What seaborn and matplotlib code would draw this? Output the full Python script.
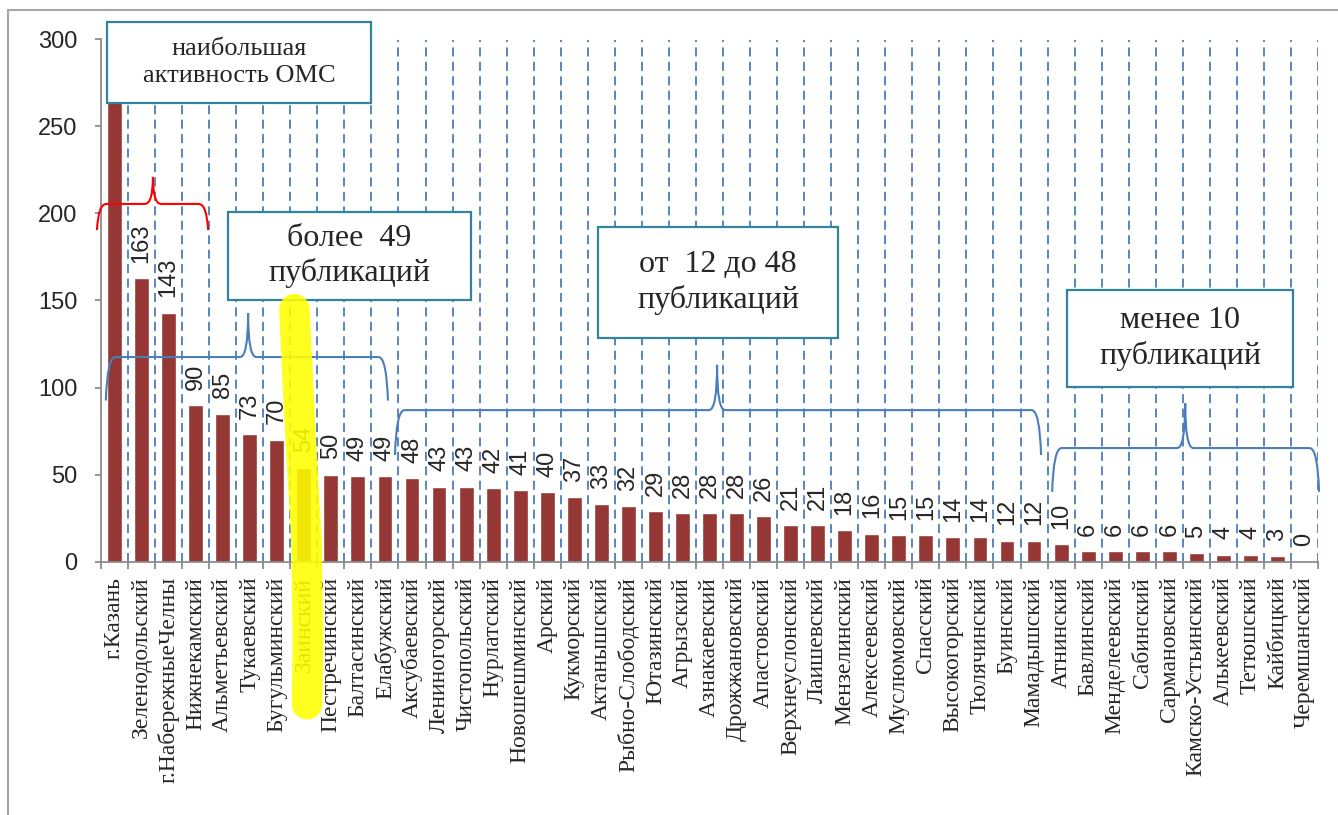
import numpy as np
import matplotlib
matplotlib.use('Agg')
import matplotlib.pyplot as plt
import seaborn as sns
from matplotlib.patches import Rectangle, PathPatch
from matplotlib.path import Path

districts = ['г.Казань', 'Зеленодольский', 'г.НабережныеЧелны', 'Нижнекамский', 'Альметьевский',
             'Тукаевский', 'Бугульминский', 'Заинский', 'Пестречинский', 'Балтасинский',
             'Елабужский', 'Аксубаевский', 'Лениногорский', 'Чистопольский', 'Нурлатский',
             'Новошешминский', 'Арский', 'Кукморский', 'Актанышский', 'Рыбно-Слободский',
             'Ютазинский', 'Агрызский', 'Азнакаевский', 'Дрожжановский', 'Апастовский',
             'Верхнеуслонский', 'Лаишевский', 'Мензелинский', 'Алексеевский', 'Муслюмовский',
             'Спасский', 'Высокогорский', 'Тюлячинский', 'Буинский', 'Мамадышский',
             'Атнинский', 'Бавлинский', 'Менделеевский', 'Сабинский', 'Сармановский',
             'Камско-Устьинский', 'Алькеевский', 'Тетюшский', 'Кайбицкий', 'Черемшанский']
counts = [329, 163, 143, 90, 85, 73, 70, 54, 50, 49, 49, 48, 43, 43, 42, 41, 40, 37, 33, 32,
          29, 28, 28, 28, 26, 21, 21, 18, 16, 15, 15, 14, 14, 12, 12, 10, 6, 6, 6, 6,
          5, 4, 4, 3, 0]

BAR = '#953735'
GRID = '#4A7EBB'
AXIS = '#8C8C8C'
BOX = '#31849B'

sns.set_theme(style='white')
plt.rcParams['font.family'] = ['Liberation Sans', 'DejaVu Sans']

W, H = 1338, 815
fig = plt.figure(figsize=(W / 100, H / 100), dpi=100)
ax = fig.add_axes([101 / W, (H - 561.5) / H, 1217 / W, 522 / H])

n = len(districts)
sns.barplot(x=districts, y=counts, color=BAR, saturation=1, width=0.55, ax=ax, zorder=2)

ax.set_xlim(-0.5, n - 0.5)
ax.set_ylim(0, 300)
bounds = np.arange(1, n + 1) - 0.5
ax.vlines(bounds, 0, 300, colors=GRID, linestyles=(0, (5, 3)), linewidth=1.3, zorder=1)

for s in ['top', 'right']:
    ax.spines[s].set_visible(False)
for s in ['left', 'bottom']:
    ax.spines[s].set_color(AXIS)
    ax.spines[s].set_linewidth(1.3)

ax.set_yticks(np.arange(0, 301, 50))
ax.tick_params(axis='y', length=4, width=1.3, color=AXIS, pad=13, labelsize=17, left=True)
ax.set_xticks(range(n))
ax.set_xticklabels(districts, rotation=90, family='Liberation Serif', fontsize=17)
ax.set_xticks(np.arange(n + 1) - 0.5, minor=True)
ax.tick_params(axis='x', which='major', length=0, pad=11)
ax.tick_params(axis='x', which='minor', length=5, width=1.3, color=AXIS, bottom=True)
ax.set_xlabel('')
ax.set_ylabel('')

# value labels; the one for the clipped bar is mostly hidden behind the box
for i, v in enumerate(counts):
    if v > 300:
        t = ax.annotate(str(v), (i, 300), xytext=(0, 14), textcoords='offset points', rotation=90,
                        ha='center', va='top', fontsize=17, annotation_clip=False, zorder=3)
        clip = Rectangle((-0.5, 310), 1, 20, transform=ax.transData)
        t.set_clip_path(clip)
    else:
        ax.annotate(str(v), (i, v), xytext=(0, 11), textcoords='offset points', rotation=90,
                    ha='center', va='bottom', fontsize=17, annotation_clip=False, zorder=3)


def brace(x0, x1, xp, y_line, y_end, y_peak, color):
    w = 0.35
    verts = [(x0, y_end), (x0 + 0.05, y_line), (x0 + w, y_line),
             (xp - 0.3, y_line), (xp - 0.3, y_line), (xp, y_line), (xp, y_peak),
             (xp, y_line), (xp + 0.3, y_line),
             (x1 - w, y_line), (x1 - w, y_line), (x1 - 0.05, y_line), (x1, y_end)]
    codes = [Path.MOVETO, Path.CURVE3, Path.CURVE3,
             Path.LINETO, Path.MOVETO, Path.CURVE3, Path.CURVE3,
             Path.CURVE3, Path.CURVE3,
             Path.LINETO, Path.MOVETO, Path.CURVE3, Path.CURVE3]
    ax.add_patch(PathPatch(Path(verts, codes), fill=False, edgecolor=color, lw=1.5,
                           zorder=4, clip_on=False))


brace(-0.65, 3.46, 1.42, 205.5, 190.5, 221, '#FF0000')
brace(-0.32, 10.11, 4.94, 117.5, 92.5, 142.8, GRID)
brace(10.37, 34.26, 22.28, 87, 61.2, 113, GRID)
brace(34.67, 44.54, 39.59, 65.2, 40, 91, GRID)


def label_box(x0, x1, y0, y1, text, size, spacing):
    ax.add_patch(Rectangle((x0, y0), x1 - x0, y1 - y0, facecolor='white', edgecolor=BOX,
                           lw=1.6, zorder=5, clip_on=False))
    ax.text((x0 + x1) / 2, (y0 + y1) / 2, text, ha='center', va='center', fontsize=size,
            family='Liberation Serif', linespacing=spacing, zorder=6, clip_on=False)


label_box(-0.28, 9.49, 263.5, 310, 'наибольшая\nактивность ОМС', 19, 1.3)
label_box(4.2, 13.18, 150.3, 200.9, 'более  49\nпубликаций', 23, 1.2)
label_box(17.88, 26.76, 128.4, 192.2, 'от  12 до 48\nпубликаций', 23, 1.25)
label_box(35.22, 43.58, 100.3, 156, 'менее 10\nпубликаций', 23, 1.25)

# highlighter stroke over Заинский
hx = districts.index('Заинский')
hl = np.array([(hx - 0.35, 145), (hx - 0.15, 80), (hx + 0.1, 12), (hx + 0.15, -45), (hx + 0.12, -82)])
ax.plot(hl[:, 0], hl[:, 1], color='#FFFF00', alpha=0.88, lw=22, solid_capstyle='round',
        solid_joinstyle='round', zorder=7, clip_on=False)

# chart area border
fig.patches.append(Rectangle((8 / W, -0.1), 1.2, (H - 10) / H + 0.1, transform=fig.transFigure,
                             fill=False, edgecolor='#A6A6A6', lw=1.5))

fig.savefig('out.png', dpi=100)
